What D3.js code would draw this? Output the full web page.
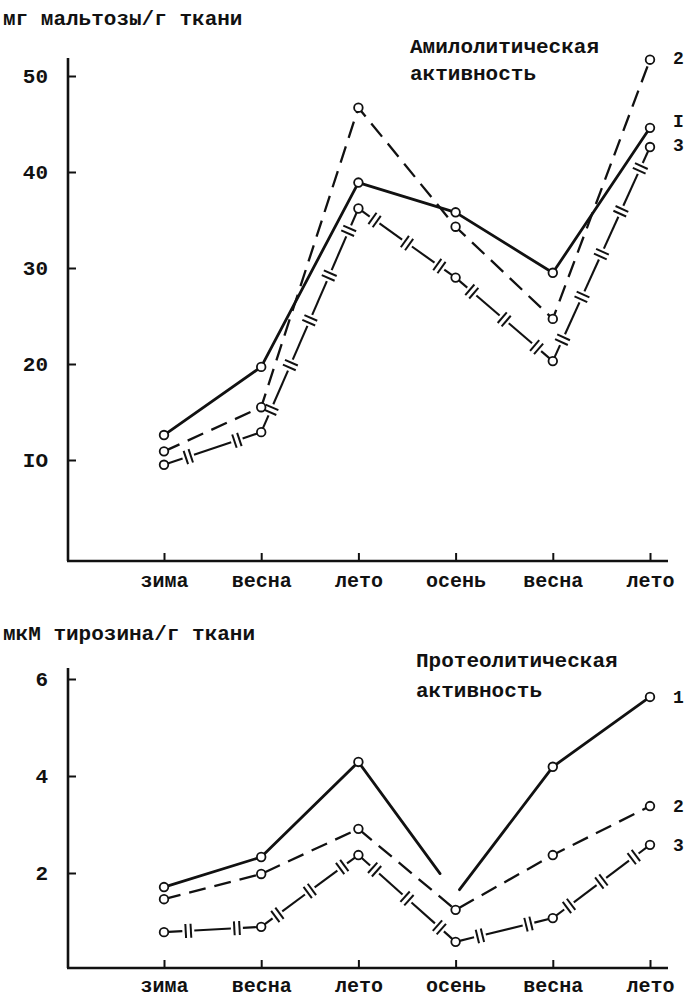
<!DOCTYPE html>
<html><head><meta charset="utf-8">
<script src="https://cdn.jsdelivr.net/npm/d3@7"></script>
<style>
html,body{margin:0;padding:0;background:#fff;}
svg{display:block;}
text{font-family:"Liberation Mono","DejaVu Sans Mono",monospace;fill:#111;}
</style></head>
<body>
<script>
// ---- data ----
const categories = ["зима","весна","лето","осень","весна","лето"];

const amylTitle = ["Амилолитическая","активность"];
const amylUnit = "мг мальтозы/г ткани";
const amylTicks = [10,20,30,40,50];
const amylTickLabels = ["IO","20","30","40","50"];
const amyl1 = [12.6,19.7,38.9,35.8,29.5,44.6];
const amyl2 = [10.9,15.5,46.7,34.3,24.7,51.7];
const amyl3 = [9.5,12.9,36.2,29.0,20.3,42.6];
const amylSeriesLabels = ["I","2","3"];

const protTitle = ["Протеолитическая","активность"];
const protUnit = "мкМ тирозина/г ткани";
const protTicks = [2,4,6];
const protTickLabels = ["2","4","6"];
const prot1 = [1.71,2.33,4.29,1.55,4.19,5.63];
const prot1Break = 3; // line broken here, no marker
const prot2 = [1.46,1.98,2.91,1.24,2.37,3.38];
const prot3 = [0.78,0.89,2.37,0.58,1.07,2.58];
const protSeriesLabels = ["1","2","3"];

// ---- drawing ----
const W = 686, H = 1002;
const svg = d3.select("body").append("svg").attr("width",W).attr("height",H);
svg.append("rect").attr("width",W).attr("height",H).attr("fill","#fff");
const INK = "#111";
const FS = 21;

const x = d3.scalePoint().domain(d3.range(categories.length)).range([164,650]);

function drawPanel(cfg){
  const g = svg.append("g");
  const y = d3.scaleLinear().domain(cfg.domain).range(cfg.range);
  // unit label
  g.append("text").attr("x",3).attr("y",cfg.unitY).attr("dy","0.35em")
    .attr("font-size",FS).attr("font-weight","bold").text(cfg.unit);
  // title
  cfg.title.forEach((t,i)=>{
    g.append("text").attr("x",cfg.titleX).attr("y",cfg.titleY[i]).attr("dy","0.35em")
      .attr("font-size",FS).attr("font-weight","bold").text(t);
  });
  // axes lines
  g.append("line").attr("x1",68).attr("x2",68).attr("y1",cfg.axisTop).attr("y2",cfg.axisY)
    .attr("stroke",INK).attr("stroke-width",2.6);
  g.append("line").attr("x1",67).attr("x2",668).attr("y1",cfg.axisY).attr("y2",cfg.axisY)
    .attr("stroke",INK).attr("stroke-width",2.6);
  // y axis ticks
  const ya = d3.axisLeft(y).tickValues(cfg.ticks)
    .tickFormat((d,i)=>cfg.tickLabels[i]).tickSizeInner(-8).tickSizeOuter(0).tickPadding(20);
  const yg = g.append("g").attr("transform","translate(68,0)").call(ya);
  yg.select(".domain").remove();
  yg.selectAll(".tick line").attr("stroke",INK).attr("stroke-width",2);
  yg.selectAll(".tick text").attr("font-size",FS).attr("font-weight","bold")
    .attr("font-family","Liberation Mono, monospace").attr("fill",INK);
  // x axis ticks
  const xa = d3.axisBottom(x).tickFormat(i=>categories[i]).tickSizeInner(-8).tickSizeOuter(0).tickPadding(cfg.xPad);
  const xg = g.append("g").attr("transform",`translate(0,${cfg.axisY})`).call(xa);
  xg.select(".domain").remove();
  xg.selectAll(".tick line").attr("stroke",INK).attr("stroke-width",2);
  xg.selectAll(".tick text").attr("font-size",20).attr("font-weight","bold")
    .attr("font-family","Liberation Mono, monospace").attr("fill",INK);

  const pts = arr => arr.map((v,i)=>[x(i),y(v)]);
  const lg = g.append("g");

  // series 1: solid (optionally broken)
  const p1 = pts(cfg.s1);
  for(let i=0;i<p1.length-1;i++){
    let t0=0,t1=1;
    if(cfg.brk!==undefined){
      if(i+1===cfg.brk) t1=0.84;
      if(i===cfg.brk) t0=0.04;
    }
    const a=p1[i], b=p1[i+1];
    lg.append("line")
      .attr("x1",a[0]+(b[0]-a[0])*t0).attr("y1",a[1]+(b[1]-a[1])*t0)
      .attr("x2",a[0]+(b[0]-a[0])*t1).attr("y2",a[1]+(b[1]-a[1])*t1)
      .attr("stroke",INK).attr("stroke-width",2.8).attr("stroke-linecap","round");
  }
  // series 2: dashed
  const p2 = pts(cfg.s2);
  lg.append("path").attr("d",d3.line()(p2)).attr("fill","none")
    .attr("stroke",INK).attr("stroke-width",2.3).attr("stroke-dasharray","17,9");
  // series 3: line with double bars
  const p3 = pts(cfg.s3);
  for(let i=0;i<p3.length-1;i++){
    const a=p3[i], b=p3[i+1];
    const dx=b[0]-a[0], dy=b[1]-a[1], L=Math.hypot(dx,dy);
    const ux=dx/L, uy=dy/L, nx=-uy, ny=ux;
    const n=Math.max(1,Math.round(L/45));
    const gap=6/L;
    const marks=d3.range(n).map(k=>(k+0.5)/n);
    let start=0;
    marks.forEach(t=>{
      const e=t-gap;
      lg.append("line").attr("x1",a[0]+dx*start).attr("y1",a[1]+dy*start)
        .attr("x2",a[0]+dx*e).attr("y2",a[1]+dy*e)
        .attr("stroke",INK).attr("stroke-width",2.1);
      const cx=a[0]+dx*t, cy=a[1]+dy*t;
      [-2.6,2.6].forEach(o=>{
        const bx=cx+ux*o, by=cy+uy*o;
        lg.append("line").attr("x1",bx-nx*7).attr("y1",by-ny*7)
          .attr("x2",bx+nx*7).attr("y2",by+ny*7)
          .attr("stroke",INK).attr("stroke-width",2);
      });
      start=t+gap;
    });
    lg.append("line").attr("x1",a[0]+dx*start).attr("y1",a[1]+dy*start)
      .attr("x2",b[0]).attr("y2",b[1]).attr("stroke",INK).attr("stroke-width",2.1);
  }
  // markers
  [[p1,cfg.brk],[p2],[p3]].forEach(([p,brk])=>{
    lg.selectAll(null).data(p.filter((d,i)=>i!==brk)).enter().append("circle")
      .attr("cx",d=>d[0]).attr("cy",d=>d[1]).attr("r",4.3)
      .attr("fill","#fff").attr("stroke",INK).attr("stroke-width",1.8);
  });
  // series labels at right
  [p1,p2,p3].forEach((p,i)=>{
    const last=p[p.length-1];
    g.append("text").attr("x",cfg.labelX).attr("y",last[1]+cfg.labelDy[i]).attr("dy","0.35em")
      .attr("font-size",18).attr("font-weight","bold").text(cfg.seriesLabels[i]);
  });
}

drawPanel({
  domain:[0,50], range:[556,76], axisTop:58, axisY:561, xPad:12,
  unit:amylUnit, unitY:18, title:amylTitle, titleX:410, titleY:[46,73],
  ticks:amylTicks, tickLabels:amylTickLabels,
  s1:amyl1, s2:amyl2, s3:amyl3, seriesLabels:amylSeriesLabels,
  labelX:673, labelDy:[-7,-2,-2]
});
drawPanel({
  domain:[0,6], range:[970,679], axisTop:668, axisY:968, xPad:10,
  unit:protUnit, unitY:633, title:protTitle, titleX:416, titleY:[660,690],
  ticks:protTicks, tickLabels:protTickLabels,
  s1:prot1, s2:prot2, s3:prot3, brk:prot1Break, seriesLabels:protSeriesLabels,
  labelX:673, labelDy:[0,0,0]
});
</script>
</body></html>
